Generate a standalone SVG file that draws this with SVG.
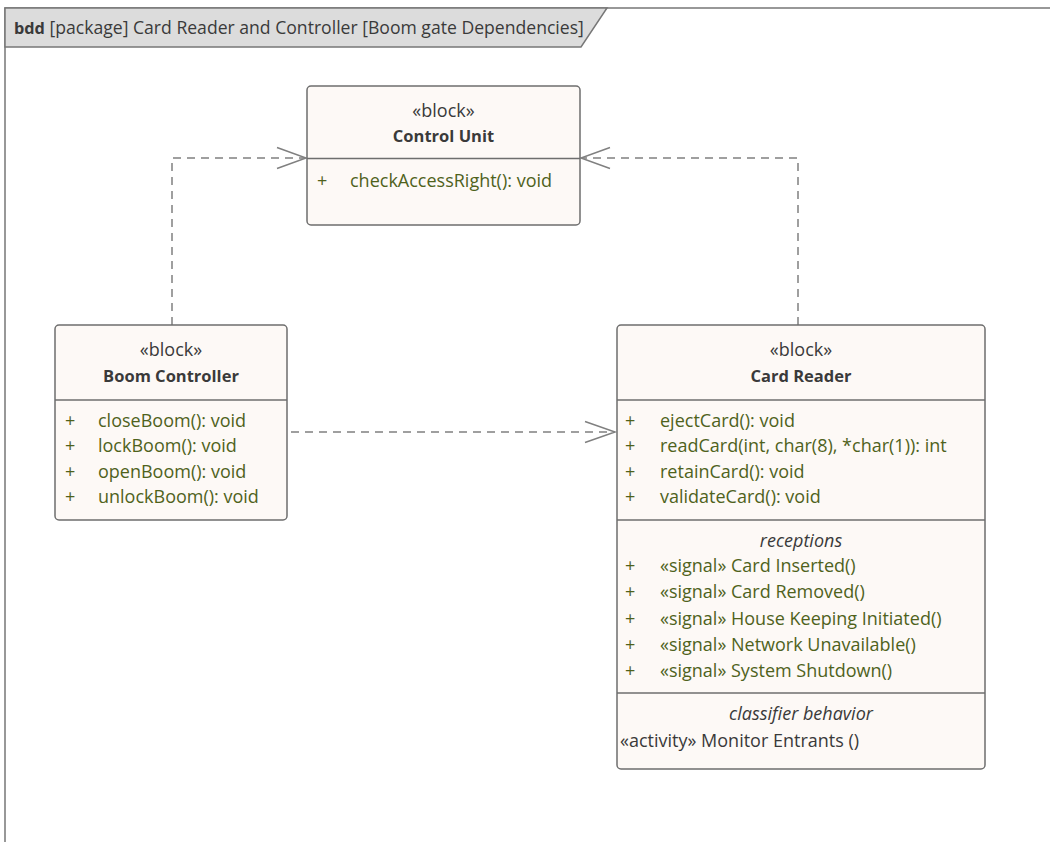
<svg xmlns="http://www.w3.org/2000/svg" width="1050" height="842" viewBox="0 0 1050 842">
<defs>
<style>
text{font-family:"Open Sans","Noto Sans","Liberation Sans",sans-serif;font-size:18px;fill:#3a3a3a}
.blk{fill:#fdf9f6;stroke:#6e6e6e;stroke-width:1.5}
.div{stroke:#6e6e6e;stroke-width:1.5}
.st{text-anchor:middle}
.nm{text-anchor:middle;font-weight:bold;font-size:16.5px}
.op{fill:#4f621c}
.it{font-style:italic;text-anchor:middle}
.ttl{font-size:17.6px}
.dep{fill:none;stroke:#808080;stroke-width:1.5;stroke-dasharray:8 6}
.ah{fill:none;stroke:#808080;stroke-width:1.5}
</style>
</defs>
<rect width="1050" height="842" fill="#ffffff"/>
<g id="frame">
<path d="M5,842 V8 H1050" fill="none" stroke="#777" stroke-width="1.5"/>
<path d="M5,8 H607 L581,47 H5 Z" fill="#dcdcdc" stroke="#777" stroke-width="1.5"/>
<text class="ttl" x="14" y="34"><tspan font-weight="bold" style="font-size:16.3px">bdd</tspan> [package] Card Reader and Controller [Boom gate Dependencies]</text>
</g>
<g id="connectors">
<path class="dep" d="M172,325 V158 H305"/>
<path class="ah" d="M277,147.5 L306,158 L277,168.5"/>
<path class="dep" d="M798,325 V158 H582"/>
<path class="ah" d="M610,147.5 L581,158 L610,168.5"/>
<path class="dep" d="M291,432 H615"/>
<path class="ah" d="M585,421.5 L615,432 L585,442.5"/>
</g>
<g id="control-unit">
<rect class="blk" x="307" y="86" width="273" height="139" rx="4"/>
<line class="div" x1="307" y1="158.5" x2="580" y2="158.5"/>
<text class="st" x="443.5" y="117">«block»</text>
<text class="nm" x="443.5" y="142">Control Unit</text>
<text class="op" x="317" y="187">+</text>
<text class="op" x="350" y="187">checkAccessRight(): void</text>
</g>
<g id="boom-controller">
<rect class="blk" x="55" y="325" width="232" height="195" rx="4"/>
<line class="div" x1="55" y1="400" x2="287" y2="400"/>
<text class="st" x="171" y="356">«block»</text>
<text class="nm" x="171" y="382">Boom Controller</text>
<text class="op" x="65" y="427">+</text><text class="op" x="98" y="427">closeBoom(): void</text>
<text class="op" x="65" y="452">+</text><text class="op" x="98" y="452">lockBoom(): void</text>
<text class="op" x="65" y="478">+</text><text class="op" x="98" y="478">openBoom(): void</text>
<text class="op" x="65" y="503">+</text><text class="op" x="98" y="503">unlockBoom(): void</text>
</g>
<g id="card-reader">
<rect class="blk" x="617" y="325" width="368" height="444" rx="4"/>
<line class="div" x1="617" y1="400" x2="985" y2="400"/>
<line class="div" x1="617" y1="520" x2="985" y2="520"/>
<line class="div" x1="617" y1="693" x2="985" y2="693"/>
<text class="st" x="801" y="356">«block»</text>
<text class="nm" x="801" y="382">Card Reader</text>
<text class="op" x="625" y="427">+</text><text class="op" x="660" y="427">ejectCard(): void</text>
<text class="op" x="625" y="452">+</text><text class="op" x="660" y="452">readCard(int, char(8), *char(1)): int</text>
<text class="op" x="625" y="478">+</text><text class="op" x="660" y="478">retainCard(): void</text>
<text class="op" x="625" y="503">+</text><text class="op" x="660" y="503">validateCard(): void</text>
<text class="it" x="801" y="547">receptions</text>
<text class="op" x="625" y="572">+</text><text class="op" x="660" y="572">«signal» Card Inserted()</text>
<text class="op" x="625" y="598">+</text><text class="op" x="660" y="598">«signal» Card Removed()</text>
<text class="op" x="625" y="625">+</text><text class="op" x="660" y="625">«signal» House Keeping Initiated()</text>
<text class="op" x="625" y="651">+</text><text class="op" x="660" y="651">«signal» Network Unavailable()</text>
<text class="op" x="625" y="677">+</text><text class="op" x="660" y="677">«signal» System Shutdown()</text>
<text class="it" x="801" y="720">classifier behavior</text>
<text x="620" y="747">«activity» Monitor Entrants ()</text>
</g>
</svg>
